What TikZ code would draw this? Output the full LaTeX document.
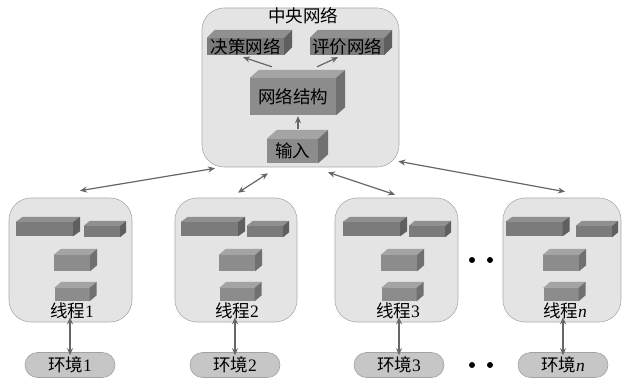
\documentclass[tikz,border=0pt]{standalone}
\usepackage{fontspec}
\setmainfont{Liberation Serif}
\newfontfamily\cjk{Noto Sans CJK SC}
\usetikzlibrary{arrows.meta}

\definecolor{panelfill}{HTML}{E4E4E4}
\definecolor{panelline}{HTML}{ABABAB}
\definecolor{darkfront}{HTML}{7B7B7B}
\definecolor{darktop}{HTML}{909090}
\definecolor{darkside}{HTML}{5F5F5F}
\definecolor{litefront}{HTML}{8C8C8C}
\definecolor{litetop}{HTML}{A4A4A4}
\definecolor{liteside}{HTML}{707070}
\definecolor{envfill}{HTML}{C6C6C6}
\definecolor{envline}{HTML}{A2A2A2}
\definecolor{arrowgray}{HTML}{666666}

\tikzset{
  panel/.style={draw=panelline, fill=panelfill, line width=0.6pt,
    rounded corners=22pt, inner sep=0pt},
  envbox/.style={draw=envline, fill=envfill, line width=0.6pt,
    rounded corners=12.5pt, minimum width=90pt, minimum height=25pt,
    inner sep=0pt, font=\fontsize{17.5}{17.5}\selectfont},
  face/.style={inner sep=0pt, font=\fontsize{17.5}{17.5}\selectfont},
  link/.style={draw=arrowgray, line width=1.2pt,
    {Stealth[length=7pt,width=6pt]}-{Stealth[length=7pt,width=6pt]}},
  uplink/.style={draw=arrowgray, line width=1.2pt,
    -{Stealth[length=7pt,width=6pt]}},
  txt/.style={inner sep=0pt, font=\fontsize{17.5}{17.5}\selectfont},
}

% \drawblock{name}{cx}{cy}{width}{height}{dx}{dy}{shade: dark|lite}{text}
\newcommand\drawblock[9]{%
  \node[face, fill=#8front, minimum width=#4pt, minimum height=#5pt]
    (#1) at (#2,#3) {#9};
  \fill[#8top] (#1.north west) -- (#1.north east) -- ++(#6,-#7)
    -- ([shift={(#6,-#7)}]#1.north west) -- cycle;
  \fill[#8side] (#1.north east) -- ++(#6,-#7)
    -- ([shift={(#6,-#7)}]#1.south east) -- (#1.south east) -- cycle;
}

\begin{document}
\begin{tikzpicture}[x=1pt, y=-1pt]
  \useasboundingbox (0,0) rectangle (623,379);

  % central network panel
  \node[panel, minimum width=197pt, minimum height=159pt] (cb) at (300.5,87.5) {};
  \node[txt] (title) at (303,16) {\cjk 中央网络};

  \drawblock{jc}{245.5}{46.5}{77}{17}{8}{8}{dark}{\cjk 决策网络}
  \drawblock{pj}{347}{46.5}{74}{17}{8}{8}{dark}{\cjk 评价网络}
  \drawblock{jg}{293}{96.5}{86}{37}{9}{8}{lite}{\cjk 网络结构}
  \drawblock{sr}{292.5}{151}{51}{24}{10}{9}{lite}{\cjk 输入}

  \draw[uplink] ([shift={(-21,-11)}]jg.north) -- ([shift={(-2.5,2)}]jc.south);
  \draw[uplink] ([shift={(24,-11)}]jg.north) -- ([shift={(-9,2)}]pj.south);
  \draw[uplink] ([shift={(5.5,-10)}]sr.north) -- ([shift={(5,1)}]jg.south);

  % worker threads and their environments
  \foreach \i/\cx/\w/\bx/\sx/\mx/\lx/\ex/\lab in {
      1/70.5/123/44.5/102/72/72/70/1,
      2/236/122/209.5/265/237/237/235/2,
      3/396.5/123/371.5/427/399/398/399/3,
      4/562/118/534/594/561/565/563/\textit{n}} {
    \node[panel, minimum width=\w pt, minimum height=124pt] (th\i) at (\cx,260) {};
    \drawblock{big\i}{\bx}{229}{57}{14}{7}{5}{dark}{}
    \drawblock{sml\i}{\sx}{231.5}{36}{11}{6}{5}{dark}{}
    \drawblock{mid\i}{\mx}{263}{36}{16}{7}{6}{lite}{}
    \drawblock{low\i}{\mx}{294.5}{35}{13}{7}{6}{lite}{}
    \node[txt] (lab\i) at (\lx,311) {{\cjk 线程}\lab};
    \node[envbox] (env\i) at (\ex,365) {{\cjk 环境}\lab};
    \draw[link] ([yshift=5]th\i.south -| env\i.north) -- ([yshift=-3]env\i.north);
  }

  % links between the central panel and the threads
  \draw[link] ([shift={(-85.5,1)}]cb.south) -- ([shift={(9.5,-7)}]th1.north);
  \draw[link] ([shift={(-32.5,6)}]cb.south) -- ([shift={(2,-5)}]th2.north);
  \draw[link] ([shift={(27.5,5)}]cb.south) -- ([shift={(-1.5,-3)}]th3.north);
  \draw[link] ([shift={(-1,-6)}]cb.south east) -- ([shift={(3,-6)}]th4.north);

  % ellipsis dots
  \foreach \px/\py in {472/260, 490/260, 472/365, 490/365}
    \fill (\px,\py) circle (3pt);
\end{tikzpicture}
\end{document}
